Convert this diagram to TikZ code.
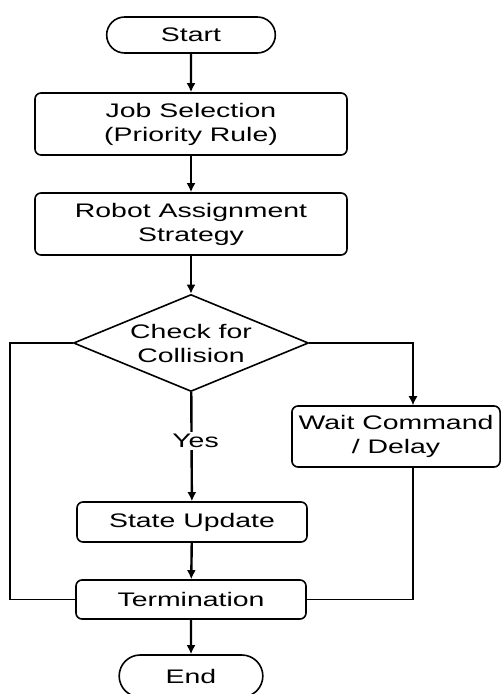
\documentclass[tikz,border=0pt]{standalone}
\usepackage{fontspec}
\setmainfont{Liberation Sans}[FakeStretch=1.45]
\usetikzlibrary{shapes.geometric,shapes.misc,arrows.meta}

\begin{document}
\begin{tikzpicture}
		[x=0.5pt, y=-0.5pt,
		font=\fontsize{9.8}{12}\selectfont,
		block/.style ={rectangle, draw=black, line width=0.8pt, rounded corners=3pt, align=center, minimum width=156pt, minimum height=31pt},
		small/.style = {block, minimum width=115pt, minimum height=20pt},
		term/.style ={rounded rectangle, draw=black, line width=0.8pt, minimum height=18pt},
		decision/.style ={diamond, draw=black, line width=0.8pt, aspect=2.4, inner sep=0pt, align=center, minimum width=117.5pt, minimum height=48.5pt},
		line/.style ={draw, line width=1.2pt, -{Latex[length=4.5pt,width=4.5pt]}},
		side/.style ={draw, line width=0.65pt},
		]
		\useasboundingbox (0,0) rectangle (500,694);

		\draw (191,35) node[term, minimum width=91pt] (start) {Start};
		\draw (191,124) node[block] (job) {Job Selection\\(Priority Rule)};
		\draw (191,224) node[block] (robot) {Robot Assignment\\Strategy};
		\draw (191,343) node[decision] (check) {Check for\\Collision};
		\draw (396,436.5) node[block, minimum width=104pt, minimum height=30.5pt] (wait) {Wait Command\\/ Delay};
		\draw (192,522) node[small] (state) {State Update};
		\draw (191,599.5) node[small, minimum height=19.5pt] (termination) {Termination};
		\draw (191,676) node[term, minimum width=78.5pt, minimum height=21pt] (end) {End};

		\coordinate (lc) at (10,343);
		\coordinate (rc) at (413,343);

		\path[line] (start) -- (job);
		\path[line] (job) -- (robot);
		\path[line] (robot) -- (check);
		\path[line] (check) -- node[pos=0.45, fill=white, inner sep=1pt, xshift=2pt] (yes) {Yes} (state);
		\path[line] (state) -- (termination);
		\path[line] (termination) -- (end);

		\path[side] (check.west) -- (lc) |- (termination.west);
		\path[side, -{Latex[length=4.5pt,width=4.5pt]}] (check.east) -- (rc) -- (rc |- wait.north);
		\path[side] (rc |- wait.south) |- (termination.east);
	\end{tikzpicture}
\end{document}
